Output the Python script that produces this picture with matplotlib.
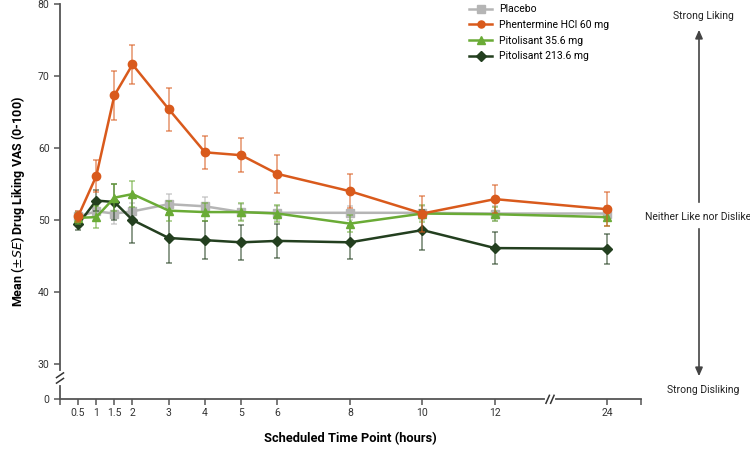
import numpy as np
import matplotlib
matplotlib.use("Agg")
import matplotlib.pyplot as plt

plt.rcParams['font.family'] = ['Roboto', 'DejaVu Sans']

hours = [0.5, 1, 1.5, 2, 3, 4, 5, 6, 8, 10, 12, 24]
tick_labels = ['0.5', '1', '1.5', '2', '3', '4', '5', '6', '8', '10', '12', '24']

placebo = [50.5, 51.2, 50.9, 51.2, 52.2, 51.9, 51.1, 51.0, 51.0, 51.0, 50.9, 50.9]
placebo_se = [0.8, 1.2, 1.4, 1.2, 1.4, 1.3, 1.1, 1.0, 1.0, 1.0, 1.0, 1.0]
phentermine = [50.5, 56.1, 67.3, 71.6, 65.4, 59.4, 59.0, 56.4, 54.0, 50.9, 52.9, 51.5]
phentermine_se = [0.8, 2.2, 3.4, 2.7, 3.0, 2.3, 2.4, 2.6, 2.4, 2.5, 1.9, 2.4]
pit_low = [50.3, 50.4, 53.1, 53.6, 51.3, 51.1, 51.1, 50.9, 49.5, 50.9, 50.8, 50.4]
pit_low_se = [0.8, 1.5, 1.9, 1.8, 1.4, 1.3, 1.2, 1.2, 1.2, 1.2, 1.0, 1.2]
pit_high = [49.4, 52.7, 52.5, 50.0, 47.5, 47.2, 46.9, 47.1, 46.9, 48.6, 46.1, 46.0]
pit_high_se = [0.8, 1.5, 2.5, 3.2, 3.5, 2.6, 2.4, 2.4, 2.3, 2.8, 2.2, 2.1]

# compressed axis segments (broken axes)
KX = 0.2575   # hours after 12 squeezed
KY = 0.1634   # values below 30 squeezed


def xfwd(x):
    x = np.asarray(x, dtype=float)
    return np.where(x <= 12, x, 12 + (x - 12) * KX)


def xinv(x):
    x = np.asarray(x, dtype=float)
    return np.where(x <= 12, x, 12 + (x - 12) / KX)


def yfwd(y):
    y = np.asarray(y, dtype=float)
    return np.where(y >= 30, y, 30 - (30 - y) * KY)


def yinv(y):
    y = np.asarray(y, dtype=float)
    return np.where(y >= 30, y, 30 - (30 - y) / KY)


W, H = 750, 449
fig = plt.figure(figsize=(7.5, 4.49), dpi=100)
ax = fig.add_axes([60 / W, 1 - 399.3 / H, 581 / W, 395.3 / H])
ax.set_xscale('function', functions=(xfwd, xinv))
ax.set_yscale('function', functions=(yfwd, yinv))

series = [
    ('Placebo', placebo, placebo_se, '#b5b5b5', 's'),
    ('Pitolisant 213.6 mg', pit_high, pit_high_se, '#233f1f', 'D'),
    ('Pitolisant 35.6 mg', pit_low, pit_low_se, '#6aab36', '^'),
    ('Phentermine HCl 60 mg', phentermine, phentermine_se, '#d95a1c', 'o'),
]
handles = {}
for name, vals, se, col, mk in series:
    ax.errorbar(hours, vals, yerr=se, fmt='none', ecolor=col, alpha=0.6,
                elinewidth=1.2, capsize=2, capthick=1.2)
    ln, = ax.plot(hours, vals, color=col, marker=mk, lw=1.8,
                  ms=6 if mk != 'D' else 5.5, label=name)
    handles[name] = ln

order = ['Placebo', 'Phentermine HCl 60 mg', 'Pitolisant 35.6 mg', 'Pitolisant 213.6 mg']
leg = ax.legend([handles[n] for n in order], order, loc='upper left',
                bbox_to_anchor=(465 / W, 1 - 0 / H), bbox_transform=fig.transFigure,
                frameon=False, fontsize=7.5, handlelength=2.2, handletextpad=0.7,
                labelspacing=0.55, borderaxespad=0, markerscale=0.85)

xmax = float(xinv(16.03))
ax.set_xlim(0, xmax)
ax.set_ylim(0, 80)
ax.set_xticks([0] + hours + [xmax])
ax.set_xticklabels([''] + tick_labels + [''])
ax.set_yticks([0, 30, 40, 50, 60, 70, 80])

for s in ['top', 'right']:
    ax.spines[s].set_visible(False)
for s in ['left', 'bottom']:
    ax.spines[s].set_color('#555555')
    ax.spines[s].set_linewidth(1.3)
ax.tick_params(colors='#555555', width=1.1, length=4, labelsize=7.5, labelcolor='#333333')
ax.tick_params(axis='x', pad=2.5)

ax.set_xlabel('Scheduled Time Point (hours)', fontsize=9.3, fontweight='bold')
ax.xaxis.set_label_coords((350 - 60) / 581, (399.3 - 432) / 395.3)
ax.set_ylabel(r'Mean ($\pm$$\mathit{SE}$) Drug Liking VAS (0-100)', fontsize=9,
              fontweight='bold', labelpad=8)

# break marks
xb = (550 - 60) / 581
yb = (399.3 - 378) / 395.3
ax.plot([xb - 0.006, xb + 0.006], [0, 0], transform=ax.transAxes, color='white',
        lw=3, clip_on=False, zorder=5)
for dx in (-0.004, 0.004):
    ax.plot([xb + dx - 0.003, xb + dx + 0.003], [-0.01, 0.01], transform=ax.transAxes,
            color='#333333', lw=1.1, clip_on=False, zorder=6)
ax.plot([0, 0], [yb - 0.012, yb + 0.012], transform=ax.transAxes, color='white',
        lw=3, clip_on=False, zorder=5)
for dy in (-0.007, 0.007):
    ax.plot([-0.006, 0.006], [yb + dy - 0.006, yb + dy + 0.006], transform=ax.transAxes,
            color='#333333', lw=1.1, clip_on=False, zorder=6)

# right-side scale annotation
def fx(px):
    return px / W


def fy(py):
    return 1 - py / H


fig.text(fx(703), fy(16), 'Strong Liking', fontsize=7.5, ha='center', va='center', color='#222222')
fig.text(fx(698), fy(217), 'Neither Like nor Dislike', fontsize=7.5, ha='center', va='center',
         color='#222222')
fig.text(fx(703), fy(390), 'Strong Disliking', fontsize=7.5, ha='center', va='center',
         color='#222222')
arrow_kw = dict(arrowstyle='-|>,head_length=0.5,head_width=0.22', color='#444444', lw=1.2)
fig.add_artist(matplotlib.patches.FancyArrowPatch((fx(699), fy(205)), (fx(699), fy(27)),
                                                   transform=fig.transFigure,
                                                   mutation_scale=10, **arrow_kw))
fig.add_artist(matplotlib.patches.FancyArrowPatch((fx(699), fy(226)), (fx(699), fy(379)),
                                                   transform=fig.transFigure,
                                                   mutation_scale=10, **arrow_kw))

fig.savefig('out.png', dpi=100)
